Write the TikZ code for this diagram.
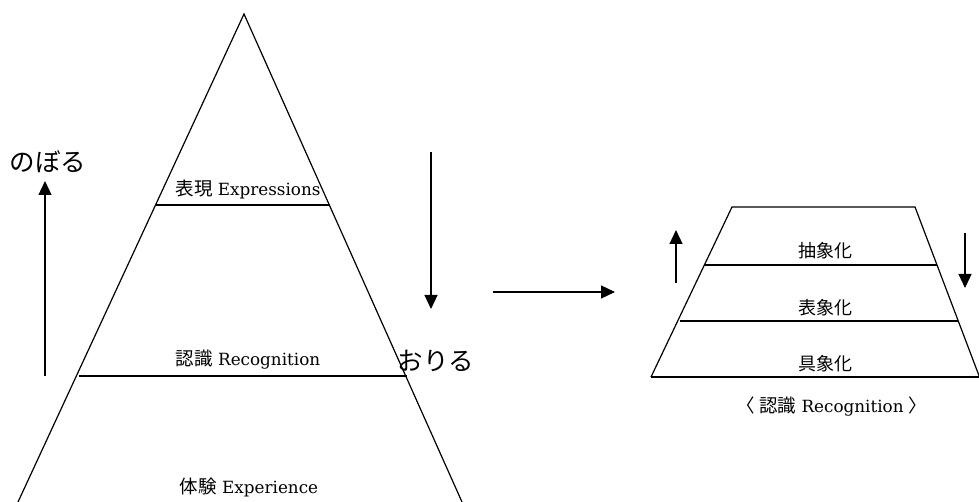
\documentclass[tikz,border=0pt]{standalone}
\usepackage{fontspec}
\setmainfont{DejaVu Serif}
\newfontfamily\jp{Noto Sans CJK JP}
\usetikzlibrary{arrows.meta}
\begin{document}
\begin{tikzpicture}[x=1pt,y=-1pt, line width=1.2pt,
  lbl/.style={font=\fontsize{16.8}{17}\selectfont, inner sep=0pt},
  jin/.style={font=\jp\fontsize{18.5}{19}\selectfont},
  jlbl/.style={font=\jp\fontsize{18}{18}\selectfont, inner sep=0pt},
  big/.style={font=\jp\fontsize{25.5}{26}\selectfont, inner sep=0pt},
  arr/.style={-{Triangle[length=14pt,width=13pt]}, line width=1.2pt}]
\useasboundingbox (0,0) rectangle (979,502);
% left triangle
\coordinate (apex) at (244,14);
\coordinate (bl) at (18,502);
\coordinate (br) at (462,502);
\draw (bl) -- (apex) -- (br);
\coordinate (e1) at (156,205);
\coordinate (e2) at (330,205);
\draw (e1) -- (e2);
\coordinate (r1) at (79,376);
\coordinate (r2) at (407,376);
\draw (r1) -- (r2);
\node[lbl] (expr) at (248,189) {{\jp\fontsize{18.5}{19}\selectfont 表現} Expressions};
\node[lbl] (reco) at (248,360) {{\jp\fontsize{18.5}{19}\selectfont 認識} Recognition};
\node[lbl] (expe) at (249,487) {{\jp\fontsize{18.5}{19}\selectfont 体験} Experience};
% left arrows
\coordinate (ua1) at (45,376);
\coordinate (ua2) at (45,181);
\draw[arr] (ua1) -- (ua2);
\node[big] (nob) at (48,162) {のぼる};
\coordinate (da1) at (431,152);
\coordinate (da2) at (431,309);
\draw[arr] (da1) -- (da2);
\node[big] (ori) at (436,361) {おりる};
% middle arrow
\coordinate (ha1) at (493,292);
\coordinate (ha2) at (615,292);
\draw[arr] (ha1) -- (ha2);
% right trapezoid
\coordinate (tl) at (732,207);
\coordinate (tr) at (915,207);
\coordinate (bl2) at (651,377);
\coordinate (br2) at (979.5,377);
\draw (bl2) -- (tl) -- (tr) -- (br2);
\draw (bl2) -- (br2);
\coordinate (m1l) at (704.4,265);
\coordinate (m1r) at (937,265);
\draw (m1l) -- (m1r);
\coordinate (m2l) at (679.5,321);
\coordinate (m2r) at (958.3,321);
\draw (m2l) -- (m2r);
\node[jlbl] (abs) at (825,251) {抽象化};
\node[jlbl] (rep) at (825,308) {表象化};
\node[jlbl] (con) at (825,364) {具象化};
\node[lbl] (cap) at (832,407) {{\jp\fontsize{18.5}{19}\selectfont 〈 認識} Recognition {\jp\fontsize{18.5}{19}\selectfont 〉}};
\coordinate (ru1) at (676,283);
\coordinate (ru2) at (676,230);
\draw[arr] (ru1) -- (ru2);
\coordinate (rd1) at (965,233);
\coordinate (rd2) at (965,288);
\draw[arr] (rd1) -- (rd2);
\end{tikzpicture}
\end{document}
